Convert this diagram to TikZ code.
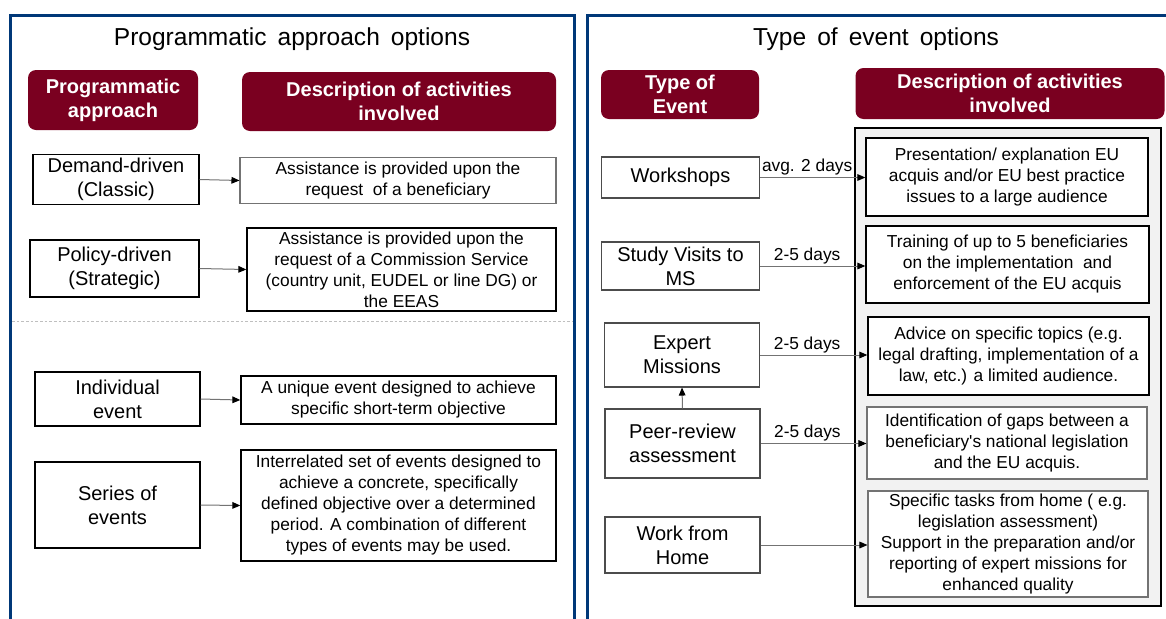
\documentclass[tikz,border=0pt]{standalone}
\usepackage{fontspec}
\setmainfont{Liberation Sans}
\usetikzlibrary{arrows.meta}
\definecolor{hdr}{HTML}{7A0020}
\definecolor{pblue}{HTML}{003878}
\definecolor{cgray}{HTML}{F2F2F2}
\begin{document}
\begin{tikzpicture}[x=0.75pt,y=-0.75pt,
  wd/.style={minimum width=#1*0.75pt},
  ht/.style={minimum height=#1*0.75pt},
  panel/.style={draw=pblue,line width=2.25pt},
  ttl/.style={font=\fontsize{18.4}{22}\selectfont,inner sep=0pt},
  hdrbox/.style={fill=hdr,rounded corners=6pt,text=white,align=center,inner sep=0pt,font=\fontsize{15}{18}\selectfont\bfseries},
  lab/.style={draw=black,line width=1pt,fill=white,align=center,inner sep=0pt,font=\fontsize{15}{18}\selectfont},
  labg/.style={lab,draw=black!70,line width=0.8pt},
  desc/.style={draw=black,line width=1pt,fill=white,align=center,inner sep=0pt,font=\fontsize{13}{15.75}\selectfont},
  descg/.style={desc,draw=black!55,line width=0.8pt},
  conn/.style={draw=black!55,line width=0.75pt,-{Triangle[length=6pt,width=5pt,color=black]}},
  dur/.style={font=\fontsize{13}{15.75}\selectfont,above,inner sep=1.5pt}
]
\useasboundingbox (0,0) rectangle (1166,618);
\fill[white] (0,0) rectangle (1166,618);
% panels
\begin{scope}
\clip (0,0) rectangle (1166,618);
\draw[panel] (10.5,15.5) rectangle (574.5,640);
\draw[panel] (587.5,15.5) rectangle (1190,640);
\end{scope}
% titles
\node[ttl] (t1) at (292,39) {Programmatic\hspace{0.45em}approach\hspace{0.45em}options};
\node[ttl] (t2) at (876,39) {Type\hspace{0.45em}of\hspace{0.45em}event\hspace{0.45em}options};
% headers
\node[hdrbox,wd=170,ht=60] (lh1) at (113,100) {Programmatic\\approach};
\node[hdrbox,wd=314,ht=59] (lh2) at (399,101.5) {Description of activities\\involved};
\node[hdrbox,wd=158,ht=49] (rh1) at (680,94.5) {Type of\\Event};
\node[hdrbox,wd=309,ht=51] (rh2) at (1010,93.5) {Description of activities\\involved};
% left side
\node[lab,wd=166,ht=50] (dem) at (116,179.5) {Demand-driven\\(Classic)};
\node[descg,wd=316,ht=46] (d1) at (398,180.5) {Assistance is provided upon the\\request\ \ of a beneficiary};
\node[lab,wd=169,ht=57] (pol) at (114.5,268.5) {Policy-driven\\(Strategic)};
\node[desc,wd=309,ht=83] (d2) at (401.5,269.5) {Assistance is provided upon the\\request of a Commission Service\\(country unit, EUDEL or line DG) or\\the EEAS};
\draw[black!25,line width=0.6pt,dash pattern=on 2pt off 1.5pt] (12,321) -- (573,321);
\node[lab,wd=165,ht=54] (ind) at (117.5,399) {Individual\\event};
\node[desc,wd=315,ht=48] (d3) at (398.5,400) {A unique event designed to achieve\\specific short-term objective};
\node[lab,wd=165,ht=86] (ser) at (117.5,505) {Series of\\events};
\node[desc,wd=315,ht=111] (d4) at (398.5,505.5) {Interrelated set of events designed to\\achieve a concrete, specifically\\defined objective over a determined\\period. A combination of different\\types of events may be used.};
\draw[conn] (dem.east) -- (d1.west);
\draw[conn] (pol.east) -- (d2.west);
\draw[conn] (ind.east) -- (d3.west);
\draw[conn] (ser.east) -- (d4.west);
% right side
\node[draw=black,line width=1.2pt,fill=cgray,inner sep=0pt,minimum width=306*0.75pt,minimum height=478*0.75pt] (cont) at (1008,367) {};
\node[labg,wd=158,ht=41] (ws) at (680.5,177.5) {Workshops};
\node[desc,wd=282,ht=78] (dw) at (1007,177) {Presentation/ explanation EU\\acquis and/or EU best practice\\issues to a large audience};
\node[labg,wd=158,ht=48] (sv) at (680.5,266) {Study Visits to\\MS};
\node[desc,wd=283,ht=77] (dsv) at (1007.5,264.5) {Training of up to 5 beneficiaries\\on the implementation\ \ and\\enforcement of the EU acquis};
\node[labg,wd=155,ht=64] (em) at (682,355) {Expert\\Missions};
\node[desc,wd=281,ht=78] (dem2) at (1008.5,356) {Advice on specific topics (e.g.\\legal drafting, implementation of a\\law, etc.) a limited audience.};
\node[labg,wd=155,ht=69] (pr) at (682.5,443.5) {Peer-review\\assessment};
\node[descg,wd=280,ht=72] (dpr) at (1007,443) {Identification of gaps between a\\beneficiary\textquotesingle s national legislation\\and the EU acquis.};
\node[labg,wd=155,ht=56] (wh) at (682.5,545) {Work from\\Home};
\node[descg,wd=280,ht=106] (dwh) at (1008,544) {Specific tasks from home ( e.g.\\legislation assessment)\\Support in the preparation and/or\\reporting of expert missions for\\enhanced quality};
\path (ws.east) -- (ws.east -| cont.west) node[dur,midway] (l1) {avg. 2 days};
\path (sv.east) -- (sv.east -| cont.west) node[dur,midway] (l2) {2-5 days};
\path (em.east) -- (em.east -| cont.west) node[dur,midway] (l3) {2-5 days};
\path (pr.east) -- (pr.east -| cont.west) node[dur,midway] (l4) {2-5 days};
\draw[conn] (ws.east) -- (ws.east -| dw.west);
\draw[conn] (sv.east) -- (sv.east -| dsv.west);
\draw[conn] (em.east) -- (em.east -| dem2.west);
\draw[conn] (pr.east) -- (pr.east -| dpr.west);
\draw[conn] (wh.east) -- (wh.east -| dwh.west);
\draw[conn] (pr.north) -- (em.south);
\end{tikzpicture}
\end{document}
